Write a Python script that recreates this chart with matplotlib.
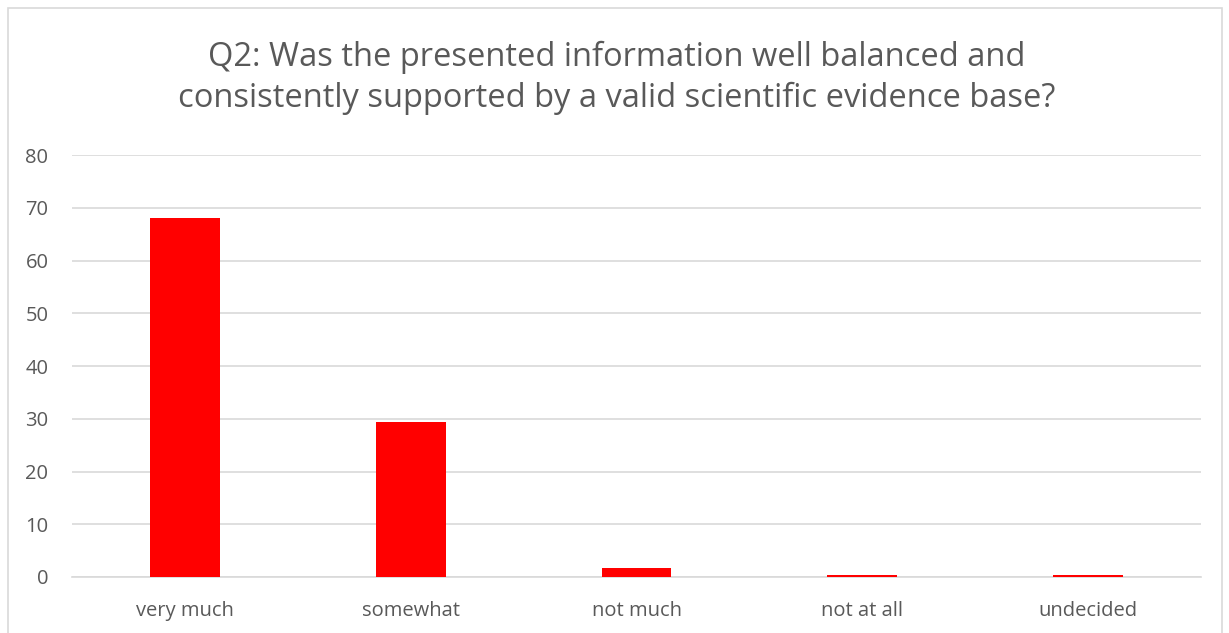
import matplotlib
matplotlib.use("Agg")
import matplotlib.pyplot as plt
from matplotlib.patches import Rectangle

categories = ["very much", "somewhat", "not much", "not at all", "undecided"]
values = [68, 29.4, 1.7, 0.45, 0.45]
yticks = [0, 10, 20, 30, 40, 50, 60, 70, 80]
title = "Q2: Was the presented information well balanced and\nconsistently supported by a valid scientific evidence base?"

plt.rcParams['font.family'] = ['Open Sans', 'DejaVu Sans']
fig = plt.figure(figsize=(12.29, 6.33), dpi=100)
ax = fig.add_axes([72/1229, 1-577/633, (1201-72)/1229, (577-155)/633])

x = list(range(len(categories)))
ax.bar(x, values, width=0.31, color='#FF0000', zorder=3)
ax.set_xlim(-0.5, len(categories)-0.5)
ax.set_ylim(0, 80)
ax.set_yticks(yticks)
ax.set_xticks(x)
ax.set_xticklabels(categories)
ax.grid(axis='y', color='#D9D9D9', linewidth=1.2, zorder=0)
for s in ['top', 'right', 'left']:
    ax.spines[s].set_visible(False)
ax.spines['bottom'].set_color('#D9D9D9')
ax.spines['bottom'].set_linewidth(1.2)
ax.tick_params(axis='both', length=0, labelsize=14.5, colors='#595959')
ax.tick_params(axis='y', pad=17)
ax.tick_params(axis='x', pad=17)

fig.text(617/1229, 1-78/633, title, ha='center', va='center', fontsize=23.5, color='#595959', linespacing=1.28)

fig.patches.append(Rectangle((8/1229, -0.1), (1222-8)/1229, 1-8/633+0.1, transform=fig.transFigure,
                             fill=False, edgecolor='#D9D9D9', linewidth=1.2))

fig.savefig("out.png", dpi=100)
